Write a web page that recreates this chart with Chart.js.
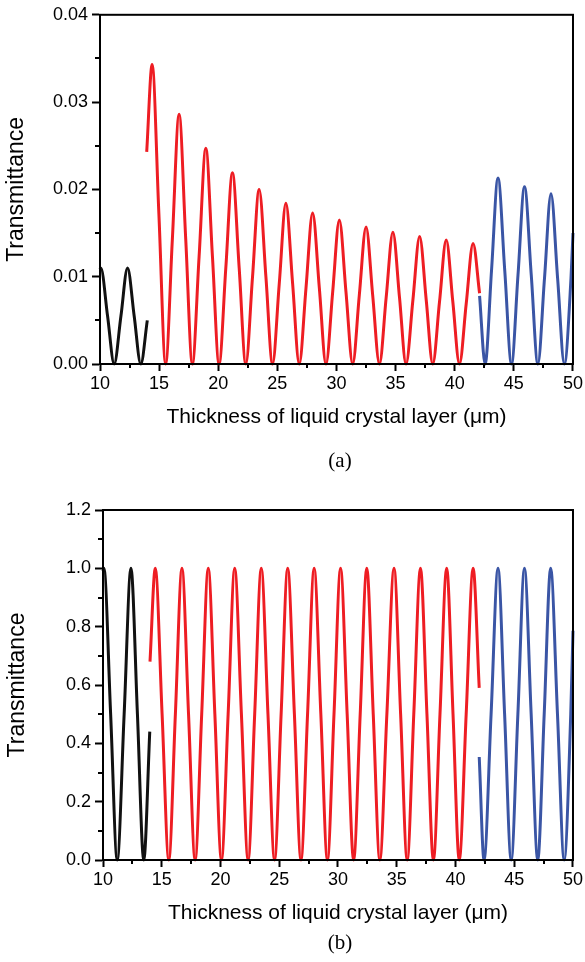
<!DOCTYPE html>
<html>
<head>
<meta charset="utf-8">
<script src="https://cdn.jsdelivr.net/npm/chart.js@4.4.1/dist/chart.umd.min.js"></script>
<style>
  html, body { margin: 0; padding: 0; background: #fff; }
  #page { position: relative; width: 585px; height: 962px; overflow: hidden; background: #fff; }
  canvas { position: absolute; left: 0; }
  .lab { position: absolute; font-family: "Liberation Serif", "Times New Roman", serif; font-size: 21px; color: #000; transform: translate(-50%, -50%); white-space: nowrap; }
</style>
</head>
<body>
<div id="page">
  <canvas id="ca" width="585" height="480" style="top:0px;width:585px;height:480px"></canvas>
  <canvas id="cb" width="585" height="482" style="top:480px;width:585px;height:482px"></canvas>
  <div class="lab" style="left:340px;top:460px">(a)</div>
  <div class="lab" style="left:340px;top:942px">(b)</div>
</div>
<script>
// ---------- data: panel (a) ----------
const aBlackX = [10.0, 10.07, 10.64, 11.2, 11.77, 12.33, 12.89, 13.45, 14.0];
const aBlackY = [0.0108, 0.0110, 0.0055, 0.0, 0.0055, 0.0110, 0.0055, 0.0, 0.0050];

const aRedX = [13.95, 14.41, 14.98, 15.55, 16.12, 16.69, 17.25, 17.81, 18.38, 18.95, 19.51, 20.07,
  20.64, 21.20, 21.77, 22.33, 22.90, 23.46, 24.03, 24.59, 25.16, 25.72, 26.29, 26.85,
  27.42, 27.98, 28.55, 29.11, 29.68, 30.24, 30.80, 31.37, 31.93, 32.50, 33.06, 33.63,
  34.20, 34.77, 35.33, 35.88, 36.46, 37.03, 37.59, 38.14, 38.71, 39.28, 39.84, 40.40,
  40.97, 41.55, 42.10];
const aRedY = [0.0243, 0.0343, 0.0172, 0.0, 0.0143, 0.0286, 0.0143, 0.0, 0.0123, 0.0247, 0.0123, 0.0,
  0.0110, 0.0219, 0.0110, 0.0, 0.0100, 0.0200, 0.0100, 0.0, 0.0092, 0.0184, 0.0092, 0.0,
  0.0087, 0.0173, 0.0087, 0.0, 0.0083, 0.0165, 0.0083, 0.0, 0.0079, 0.0157, 0.0079, 0.0,
  0.0076, 0.0151, 0.0076, 0.0, 0.0073, 0.0146, 0.0073, 0.0, 0.0071, 0.0142, 0.0071, 0.0,
  0.0069, 0.0138, 0.0081];

const aBlueX = [42.10, 42.57, 43.11, 43.66, 44.23, 44.80, 45.35, 45.90, 46.47, 47.03, 47.59, 48.14, 48.70, 49.27, 49.83, 50.00];
const aBlueY = [0.0078, 0.0, 0.0107, 0.0213, 0.0107, 0.0, 0.0102, 0.0203, 0.0102, 0.0, 0.0098, 0.0195, 0.0098, 0.0, 0.0098, 0.0150];

// ---------- data: panel (b) ----------
const bBlackX = [10.0, 10.08, 10.65, 11.21, 11.80, 12.38, 12.93, 13.47, 13.98];
const bBlackY = [0.99, 1.0, 0.5, 0.0, 0.5, 1.0, 0.5, 0.0, 0.44];

const bRedX = [14.00, 14.45, 15.03, 15.60, 16.16, 16.72, 17.28, 17.84, 18.40, 18.96, 19.52, 20.08,
  20.65, 21.21, 21.78, 22.35, 22.91, 23.47, 24.04, 24.60, 25.16, 25.72, 26.29, 26.85,
  27.41, 27.97, 28.54, 29.10, 29.66, 30.22, 30.78, 31.33, 31.89, 32.45, 33.00, 33.56,
  34.16, 34.77, 35.33, 35.89, 36.45, 37.02, 37.57, 38.12, 38.68, 39.25, 39.79, 40.32,
  40.91, 41.50, 42.02];
const bRedY = [0.68, 1.0, 0.5, 0.0, 0.5, 1.0, 0.5, 0.0, 0.5, 1.0, 0.5, 0.0,
  0.5, 1.0, 0.5, 0.0, 0.5, 1.0, 0.5, 0.0, 0.5, 1.0, 0.5, 0.0,
  0.5, 1.0, 0.5, 0.0, 0.5, 1.0, 0.5, 0.0, 0.5, 1.0, 0.5, 0.0,
  0.5, 1.0, 0.5, 0.0, 0.5, 1.0, 0.5, 0.0, 0.5, 1.0, 0.5, 0.0,
  0.5, 1.0, 0.59];

const bBlueX = [42.02, 42.43, 43.03, 43.62, 44.18, 44.74, 45.31, 45.87, 46.44, 47.00, 47.55, 48.10, 48.68, 49.25, 49.81, 50.00];
const bBlueY = [0.353, 0.0, 0.5, 1.0, 0.5, 0.0, 0.5, 1.0, 0.5, 0.0, 0.5, 1.0, 0.5, 0.0, 0.5, 0.786];

// ---------- axes / labels ----------
const xRange = [10, 50];
const xStep = 5;
const aYRange = [0, 0.04];
const aYStep = 0.01;
const bYRange = [0, 1.2];
const bYStep = 0.2;
const yTitle = 'Transmittance';
const xTitle = 'Thickness of liquid crystal layer (\u03bcm)';

const RED = '#ee1d23', BLUE = '#3a55a5', BLACK = '#111111';
const FONT = '"Liberation Sans", Arial, Helvetica, sans-serif';

function pts(xs, ys) { return xs.map((x, i) => ({ x: x, y: ys[i] })); }

const frameAndMinor = {
  id: 'frameAndMinor',
  afterDraw(chart) {
    const ctx = chart.ctx, a = chart.chartArea;
    ctx.save();
    ctx.strokeStyle = '#000';
    ctx.lineWidth = 2;
    ctx.strokeRect(a.left, a.top, a.right - a.left, a.bottom - a.top);
    const xs = chart.scales.x, ys = chart.scales.y;
    const mx = chart.options.scales.x.minorStep, my = chart.options.scales.y.minorStep;
    ctx.beginPath();
    for (let v = xs.min + mx; v < xs.max; v += 2 * mx) {
      const p = Math.round(xs.getPixelForValue(v));
      ctx.moveTo(p, a.bottom); ctx.lineTo(p, a.bottom + 4);
    }
    for (let v = ys.min + my; v < ys.max; v += 2 * my) {
      const p = Math.round(ys.getPixelForValue(v));
      ctx.moveTo(a.left, p); ctx.lineTo(a.left - 5, p);
    }
    ctx.stroke();
    ctx.restore();
  }
};

function makeChart(id, sets, yRange, yStep, dec, cfg) {
  const ds = sets.map(s => ({
    data: pts(s[0], s[1]),
    borderColor: s[2],
    borderWidth: 3,
    pointRadius: 0,
    fill: false,
    cubicInterpolationMode: 'monotone',
    clip: 3
  }));
  return new Chart(document.getElementById(id), {
    type: 'line',
    data: { datasets: ds },
    plugins: [frameAndMinor],
    options: {
      responsive: false,
      animation: false,
      devicePixelRatio: 1,
      layout: { padding: { left: 0, right: cfg.padRight, top: cfg.padTop, bottom: 0 } },
      plugins: { legend: { display: false }, tooltip: { enabled: false } },
      scales: {
        x: {
          type: 'linear', min: xRange[0], max: xRange[1],
          minorStep: xStep / 2,
          ticks: { stepSize: xStep, color: '#000', font: { family: FONT, size: 18 }, padding: cfg.xTickPad, maxRotation: 0, autoSkip: false },
          grid: { drawOnChartArea: false, drawTicks: true, tickLength: 7, tickWidth: 2, tickColor: '#000' },
          border: { display: true, color: '#000', width: 2 },
          title: { display: true, text: xTitle, color: '#000', font: { family: FONT, size: 21 }, padding: { top: 0, bottom: cfg.xTitlePad } },
          afterFit(s) { s.height = cfg.xHeight; }
        },
        y: {
          type: 'linear', min: yRange[0], max: yRange[1],
          minorStep: yStep / 2,
          ticks: { stepSize: yStep, color: '#000', font: { family: FONT, size: 18 }, padding: 4, callback: v => Number(v).toFixed(dec) },
          grid: { drawOnChartArea: false, drawTicks: true, tickLength: 8, tickWidth: 2, tickColor: '#000' },
          border: { display: true, color: '#000', width: 2 },
          title: { display: true, text: yTitle, color: '#000', font: { family: FONT, size: 23 }, padding: { top: cfg.yTitlePad, bottom: 0 } },
          afterFit(s) { s.width = cfg.yWidth; }
        }
      }
    }
  });
}

makeChart('ca', [[aBlackX, aBlackY, BLACK], [aRedX, aRedY, RED], [aBlueX, aBlueY, BLUE]], aYRange, aYStep, 2,
  { padRight: 11, padTop: 13, xHeight: 116, yWidth: 100, xTickPad: 2, xTitlePad: 50, yTitlePad: 3 });
makeChart('cb', [[bBlackX, bBlackY, BLACK], [bRedX, bRedY, RED], [bBlueX, bBlueY, BLUE]], bYRange, bYStep, 1,
  { padRight: 9, padTop: 30, xHeight: 102, yWidth: 103, xTickPad: 2, xTitlePad: 36, yTitlePad: 4 });
</script>
</body>
</html>
